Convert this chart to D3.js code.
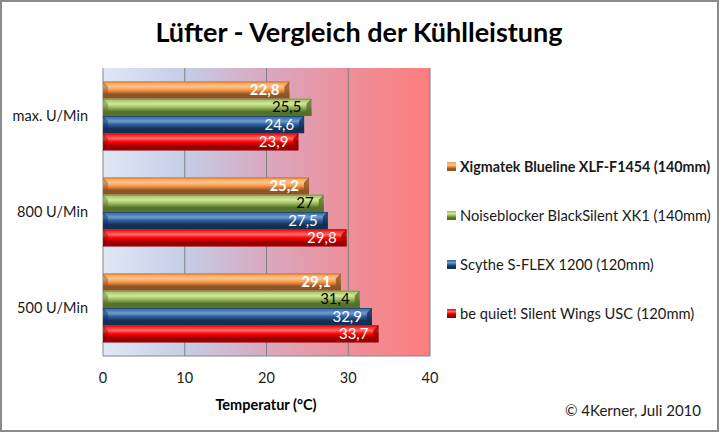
<!DOCTYPE html>
<html>
<head>
<meta charset="utf-8">
<script src="https://cdn.jsdelivr.net/npm/d3@7"></script>
<style>
  body { margin: 0; background: #fff; }
  svg text { font-family: Lato, "Open Sans", sans-serif; }
</style>
</head>
<body>
<div id="wrapper"></div>
<script>
// chart data
const categories = ["max. U/Min", "800 U/Min", "500 U/Min"];
const seriesNames = [
    "Xigmatek Blueline XLF-F1454 (140mm)",
    "Noiseblocker BlackSilent XK1 (140mm)",
    "Scythe S-FLEX 1200 (120mm)",
    "be quiet! Silent Wings USC (120mm)"
];
const xigmatek = [22.8, 25.2, 29.1];
const noiseblocker = [25.5, 27, 31.4];
const scythe = [24.6, 27.5, 32.9];
const bequiet = [23.9, 29.8, 33.7];
const xTicks = [0, 10, 20, 30, 40];

const seriesValues = [xigmatek, noiseblocker, scythe, bequiet];
// light, base, dark, label color
const palette = [
    {light: "#fbc48b", base: "#f79646", dark: "#8e5424", label: "#fff", bold: true},
    {light: "#d3e8a0", base: "#9bbb59", dark: "#55702a", label: "#000", bold: false},
    {light: "#6f9bd1", base: "#2c5f9a", dark: "#132f52", label: "#fff", bold: false},
    {light: "#ff6a6a", base: "#ff0000", dark: "#990000", label: "#fff", bold: false}
];

const dimension = {
    width: 720,
    height: 433,
    plot: {left: 103, right: 430, top: 68, bottom: 356}
};

const svg = d3.select("#wrapper").append("svg")
    .attr("width", dimension.width)
    .attr("height", dimension.height);

const defs = svg.append("defs");

// outer frame
svg.append("rect")
    .attr("x", 1).attr("y", 1)
    .attr("width", dimension.width - 3).attr("height", dimension.height - 3)
    .attr("fill", "#fff")
    .attr("stroke", "#8c8c8c")
    .attr("stroke-width", 2);

// title
svg.append("text")
    .attr("x", 359).attr("y", 42)
    .attr("text-anchor", "middle")
    .style("font-size", "27px")
    .style("font-weight", "bold")
    .text("Lüfter - Vergleich der Kühlleistung");

const xScaler = d3.scaleLinear()
    .domain([0, 40])
    .range([dimension.plot.left, dimension.plot.right]);

const yScaler = d3.scaleBand()
    .domain(categories)
    .range([dimension.plot.top, dimension.plot.bottom])
    .paddingInner(0.28)
    .paddingOuter(0.14);

const innerScaler = d3.scaleBand()
    .domain(d3.range(seriesNames.length))
    .range([0, yScaler.bandwidth()]);

// plot background gradient
const bg = defs.append("linearGradient").attr("id", "bg")
    .attr("x1", "0%").attr("x2", "100%").attr("y1", "0%").attr("y2", "0%");
bg.append("stop").attr("offset", "0%").attr("stop-color", "#e0e8f6");
bg.append("stop").attr("offset", "25%").attr("stop-color", "#c4cde7");
bg.append("stop").attr("offset", "50%").attr("stop-color", "#d9a8bf");
bg.append("stop").attr("offset", "75%").attr("stop-color", "#ec8f9a");
bg.append("stop").attr("offset", "100%").attr("stop-color", "#ff7d7d");

svg.append("rect")
    .attr("x", dimension.plot.left)
    .attr("y", dimension.plot.top)
    .attr("width", dimension.plot.right - dimension.plot.left)
    .attr("height", dimension.plot.bottom - dimension.plot.top)
    .attr("fill", "url(#bg)");

// gridlines
svg.append("g")
    .selectAll("line")
    .data(xTicks.slice(1))
    .join("line")
    .attr("x1", d => xScaler(d)).attr("x2", d => xScaler(d))
    .attr("y1", dimension.plot.top).attr("y2", dimension.plot.bottom)
    .attr("stroke", "#7f7f7f")
    .attr("stroke-width", 1);

// axis lines
svg.append("line")
    .attr("x1", dimension.plot.left).attr("x2", dimension.plot.left)
    .attr("y1", dimension.plot.top).attr("y2", dimension.plot.bottom)
    .attr("stroke", "#868686");
svg.append("line")
    .attr("x1", dimension.plot.left).attr("x2", dimension.plot.right)
    .attr("y1", dimension.plot.bottom).attr("y2", dimension.plot.bottom)
    .attr("stroke", "#868686");

// bar gradients
palette.forEach((p, i) => {
    const g = defs.append("linearGradient").attr("id", "bar" + i)
        .attr("x1", "0%").attr("x2", "0%").attr("y1", "0%").attr("y2", "100%");
    g.append("stop").attr("offset", "0%").attr("stop-color", p.base);
    g.append("stop").attr("offset", "30%").attr("stop-color", p.light);
    g.append("stop").attr("offset", "50%").attr("stop-color", p.base);
    g.append("stop").attr("offset", "75%").attr("stop-color", p.dark);
    g.append("stop").attr("offset", "100%").attr("stop-color", p.dark);
});

// bars
const bars = [];
seriesValues.forEach((vals, s) => {
    vals.forEach((v, c) => bars.push({s: s, cat: categories[c], value: v}));
});

const bevel = 5;
const barG = svg.append("g");
const barItem = barG.selectAll("g")
    .data(bars)
    .join("g")
    .attr("transform", d => `translate(0, ${yScaler(d.cat) + innerScaler(d.s)})`);

const bh = innerScaler.bandwidth();

barItem.append("rect")
    .attr("x", xScaler(0))
    .attr("y", 0)
    .attr("width", d => xScaler(d.value) - xScaler(0))
    .attr("height", bh)
    .attr("fill", d => `url(#bar${d.s})`);

// left bevel
barItem.append("path")
    .attr("d", `M${xScaler(0)},0 L${xScaler(0) + bevel},${bevel} L${xScaler(0) + bevel},${bh - bevel} L${xScaler(0)},${bh} Z`)
    .attr("fill", d => palette[d.s].dark)
    .attr("opacity", 0.45);

// right bevel
barItem.append("path")
    .attr("d", d => {
        const x1 = xScaler(d.value);
        return `M${x1},0 L${x1 - bevel},${bevel} L${x1 - bevel},${bh - bevel} L${x1},${bh} Z`;
    })
    .attr("fill", d => palette[d.s].dark)
    .attr("opacity", 0.8);

// top edge
barItem.append("line")
    .attr("x1", xScaler(0)).attr("x2", d => xScaler(d.value))
    .attr("y1", 0.5).attr("y2", 0.5)
    .attr("stroke", d => palette[d.s].dark)
    .attr("stroke-opacity", 0.5);

// value labels
barItem.append("text")
    .attr("x", d => xScaler(d.value) - 10)
    .attr("y", bh / 2 + 5)
    .attr("text-anchor", "end")
    .style("font-size", "15px")
    .style("font-weight", d => palette[d.s].bold ? "bold" : "normal")
    .attr("fill", d => palette[d.s].label)
    .text(d => String(d.value).replace(".", ","));

// category labels
svg.append("g")
    .selectAll("text")
    .data(categories)
    .join("text")
    .attr("x", 88)
    .attr("y", d => yScaler(d) + yScaler.bandwidth() / 2 + 5)
    .attr("text-anchor", "end")
    .style("font-size", "14.5px")
    .attr("fill", "#1a1a1a")
    .text(d => d);

// x tick labels
svg.append("g")
    .selectAll("text")
    .data(xTicks)
    .join("text")
    .attr("x", d => xScaler(d))
    .attr("y", 383)
    .attr("text-anchor", "middle")
    .style("font-size", "14.5px")
    .attr("fill", "#1a1a1a")
    .text(d => d);

// x axis title
svg.append("text")
    .attr("x", 266).attr("y", 410)
    .attr("text-anchor", "middle")
    .style("font-size", "14.5px")
    .style("font-weight", "bold")
    .text("Temperatur (°C)");

// legend
const legend = svg.append("g");
const legendItem = legend.selectAll("g")
    .data(seriesNames)
    .join("g")
    .attr("transform", (d, i) => `translate(447, ${167 + i * 49})`);

legendItem.append("rect")
    .attr("x", 0).attr("y", -5)
    .attr("width", 9).attr("height", 9)
    .attr("fill", (d, i) => `url(#bar${i})`);

legendItem.append("text")
    .attr("x", 13).attr("y", 5)
    .style("font-size", (d, i) => i === 0 ? "14.3px" : "14.7px")
    .style("font-weight", (d, i) => i === 0 ? "bold" : "normal")
    .attr("fill", "#1a1a1a")
    .text(d => d);

// credit
svg.append("text")
    .attr("x", 701).attr("y", 416)
    .attr("text-anchor", "end")
    .style("font-size", "15px")
    .attr("fill", "#1a1a1a")
    .text("© 4Kerner, Juli 2010");
</script>
</body>
</html>
